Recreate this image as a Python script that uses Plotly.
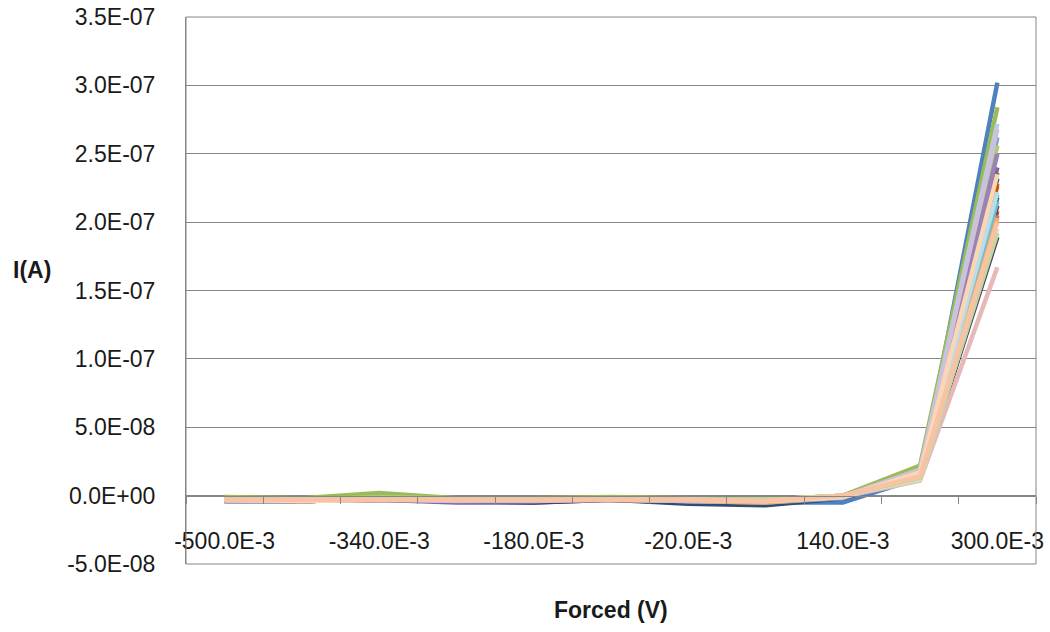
import numpy as np
import plotly.graph_objects as go

# Forced voltage (V)
forced_v = [-0.50, -0.42, -0.34, -0.26, -0.18, -0.10, -0.02, 0.06, 0.14, 0.22, 0.30]

# Measured current per device, in nA (converted to A below)
s01 = [-3, -3, -2, -3, -3, -3, -5, -5, -5, 13, 302]
s02 = [-3, -4, -3, -2, -4, -2, -3, -4, -1, 14, 208]
s03 = [-1, -2, 2, -2, -2, -1, -2, -3, 0, 22, 284]
s04 = [-4, -4, -3, -5, -5, -3, -4, -4, -1, 16, 240]
s05 = [-3, -3, -2, -3, -3, -2, -3, -4, -1, 16, 220]
s06 = [-3, -4, -3, -3, -3, -3, -4, -6, -1, 15, 226]
s07 = [-4, -4, -3, -3, -3, -3, -6, -7, -2, 14, 232]
s08 = [-3, -4, -3, -3, -3, -2, -3, -4, -1, 13, 212]
s09 = [-2, -3, -2, -2, -2, -2, -3, -3, 0, 17, 236]
s10 = [-4, -4, -3, -4, -5, -3, -4, -4, -1, 12, 189]
s11 = [-3, -3, -2, -3, -3, -2, -3, -4, -1, 15, 218]
s12 = [-3, -4, -3, -3, -3, -3, -4, -5, -1, 15, 228]
s13 = [-3, -3, -2, -3, -3, -2, -4, -5, -2, 17, 262]
s14 = [-3, -4, -3, -3, -3, -2, -3, -4, -1, 13, 205]
s15 = [-2, -3, -1, -2, -2, -2, -3, -3, 0, 18, 256]
s16 = [-4, -4, -3, -4, -4, -3, -4, -4, -1, 17, 250]
s17 = [-3, -3, -2, -3, -3, -2, -3, -4, -1, 15, 215]
s18 = [-3, -4, -3, -3, -3, -3, -4, -5, -1, 14, 203]
s19 = [-3, -3, -2, -3, -3, -2, -3, -4, -1, 19, 272]
s20 = [-3, -4, -3, -3, -3, -2, -3, -4, -1, 11, 167]
s21 = [-2, -3, -2, -2, -2, -2, -3, -3, 0, 12, 195]
s22 = [-4, -4, -3, -4, -4, -3, -4, -4, -1, 19, 268]
s23 = [-3, -3, -2, -3, -3, -2, -3, -4, -1, 16, 222]
s24 = [-3, -4, -3, -3, -3, -3, -3, -4, -1, 17, 235]
s25 = [-2, -3, -2, -2, -2, -2, -3, -3, 0, 13, 192]
s26 = [-3, -3, -3, -3, -3, -3, -3, -4, 0, 14, 200]

series = [s01, s02, s03, s04, s05, s06, s07, s08, s09, s10, s11, s12, s13,
          s14, s15, s16, s17, s18, s19, s20, s21, s22, s23, s24, s25, s26]

colors = ["#4F81BD", "#C0504D", "#9BBB59", "#8064A2", "#4BACC6", "#F79646",
          "#2C4D75", "#772C2A", "#5F7530", "#4D3B62", "#276A7C", "#B65708",
          "#729ACA", "#CD7371", "#AFC97A", "#9983B5", "#6FBDD1", "#F9AB6B",
          "#B9CDE5", "#E6B9B8", "#D7E4BD", "#CCC1DA", "#B7DEE8", "#FCD5B5",
          "#C3D69B", "#F8C3A4"]

x_tick_vals = [-0.50, -0.34, -0.18, -0.02, 0.14, 0.30]
x_tick_text = ["-500.0E-3", "-340.0E-3", "-180.0E-3", "-20.0E-3", "140.0E-3", "300.0E-3"]
x_minor_vals = [-0.54, -0.46, -0.38, -0.30, -0.22, -0.14, -0.06, 0.02, 0.10, 0.18, 0.26, 0.34]

y_tick_vals = [-5e-8, 0, 5e-8, 1e-7, 1.5e-7, 2e-7, 2.5e-7, 3e-7, 3.5e-7]
y_tick_text = ["-5.0E-08", "0.0E+00", "5.0E-08", "1.0E-07", "1.5E-07",
               "2.0E-07", "2.5E-07", "3.0E-07", "3.5E-07"]

FONT = "Liberation Sans"
AXIS_GREY = "#868686"

fig = go.Figure()
for vals, col in zip(series, colors):
    fig.add_trace(go.Scatter(
        x=forced_v, y=np.array(vals) * 1e-9, mode="lines",
        line=dict(color=col, width=4.5), showlegend=False, hoverinfo="skip"))

fig.update_layout(
    width=1050, height=632,
    margin=dict(l=186, r=14, t=17, b=68),
    paper_bgcolor="white", plot_bgcolor="white",
    font=dict(family=FONT, size=23, color="#1a1a1a"),
    showlegend=False,
)

fig.update_xaxes(
    range=[-0.54, 0.34], anchor="free", position=0.125, automargin=False,
    showgrid=False, zeroline=False,
    showline=True, linecolor=AXIS_GREY, linewidth=1,
    tickmode="array", tickvals=x_tick_vals, ticktext=x_tick_text,
    ticks="", ticklabelstandoff=25, ticklabeloverflow="allow",
    minor=dict(tickmode="array", tickvals=x_minor_vals, ticks="outside",
               ticklen=7, tickcolor=AXIS_GREY, tickwidth=1, showgrid=False),
)

fig.update_yaxes(
    range=[-5e-8, 3.5e-7], automargin=False,
    showgrid=True, gridcolor=AXIS_GREY, gridwidth=1, zeroline=False,
    showline=True, linecolor=AXIS_GREY, linewidth=1,
    tickmode="array", tickvals=y_tick_vals, ticktext=y_tick_text,
    ticks="", ticklabelstandoff=25, ticklabeloverflow="allow",
)

# plot-area border
fig.add_shape(type="rect", xref="paper", yref="paper", x0=0, x1=1, y0=0, y1=1,
              line=dict(color=AXIS_GREY, width=1), layer="above")

fig.add_annotation(text="<b>I(A)</b>", xref="paper", yref="paper",
                   x=-0.181, y=0.5375, xanchor="center", yanchor="middle",
                   showarrow=False,
                   font=dict(family=FONT, size=23, color="#1a1a1a"))
fig.add_annotation(text="<b>Forced (V)</b>", xref="paper", yref="paper",
                   x=0.5, y=-0.084, xanchor="center", yanchor="middle",
                   showarrow=False,
                   font=dict(family=FONT, size=23, color="#1a1a1a"))

# remove the default 8px page margin so the figure fills the window exactly
fig.write_html("out.html",
               config={"displayModeBar": False},
               post_script="document.body.style.margin='0';")
